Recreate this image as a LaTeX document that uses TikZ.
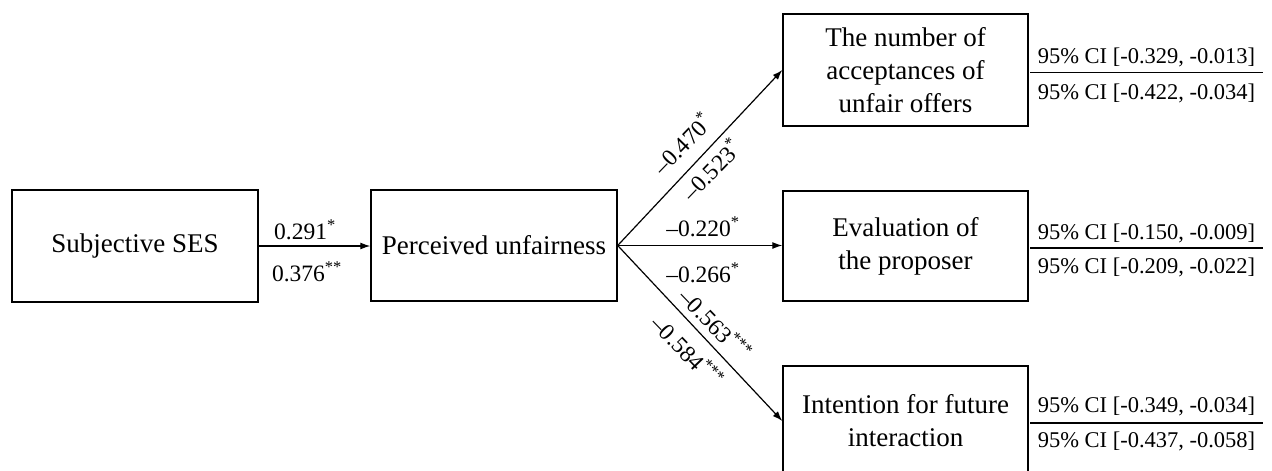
\documentclass[tikz,border=0pt]{standalone}
\usepackage{fontspec}
\setmainfont{Liberation Serif}
\usetikzlibrary{arrows.meta}
\begin{document}
\begin{tikzpicture}[x=1pt,y=-1pt,
  box/.style={draw, line width=1.4pt, align=center, inner sep=0pt, font=\fontsize{27}{33}\selectfont},
  lab/.style={inner sep=0pt, font=\fontsize{23.5}{26}\selectfont},
  ci/.style={inner sep=0pt, font=\fontsize{22.5}{26}\selectfont},
  arr/.style={line width=1.2pt, -{Latex[length=10pt,width=7pt]}},
  rule/.style={line width=1.2pt}]
\useasboundingbox (0,0) rectangle (1272,471);
\clip (0,0) rectangle (1272,471);
\node[box, minimum width=246pt, minimum height=112pt] (ses) at (135,246) {Subjective SES};
\node[box, minimum width=246pt, minimum height=111pt] (pu) at (494,245.5) {Perceived unfairness};
\node[box, minimum width=245pt, minimum height=112pt] (acc) at (905.5,70) {The number of\\acceptances of\\unfair offers};
\node[box, minimum width=245pt, minimum height=110pt] (eva) at (905.5,246) {Evaluation of\\the proposer};
\node[box, minimum width=245pt, minimum height=110pt] (int) at (905.5,421) {Intention for future\\interaction};

\coordinate (pux) at (pu.east);
\draw[arr] (ses.east |- 0,246) -- (pu.west |- 0,246);
\draw[arr] (pux) -- (acc.west);
\draw[arr] (pux) -- (eva.west |- pux);
\draw[arr] (pux) -- (int.west);

\node[lab] (l1) at (305,230) {0.291\textsuperscript{*}};
\node[lab] (l2) at (307,272) {0.376\textsuperscript{**}};
\node[lab, rotate=46] (l3) at (682,143) {–0.470\textsuperscript{*}};
\node[lab, rotate=46] (l4) at (711,169) {–0.523\textsuperscript{*}};
\node[lab] (l5) at (703,227) {–0.220\textsuperscript{*}};
\node[lab] (l6) at (703,273) {–0.266\textsuperscript{*}};
\node[lab, rotate=-46] (l7) at (716,324) {–0.563\textsuperscript{***}};
\node[lab, rotate=-46] (l8) at (688,351) {–0.584\textsuperscript{***}};

\coordinate (r1a) at (1030,72.7);
\coordinate (r1b) at (1263,72.7);
\draw[rule] (r1a) -- (r1b);
\node[ci] (c1a) at (1146.5,57) {95\% CI [-0.329, -0.013]};
\node[ci] (c1b) at (1146.5,93) {95\% CI [-0.422, -0.034]};
\coordinate (r2a) at (1030,248);
\coordinate (r2b) at (1263,248);
\draw[rule] (r2a) -- (r2b);
\node[ci] (c2a) at (1146.5,233) {95\% CI [-0.150, -0.009]};
\node[ci] (c2b) at (1146.5,267) {95\% CI [-0.209, -0.022]};
\coordinate (r3a) at (1030,423);
\coordinate (r3b) at (1263,423);
\draw[rule] (r3a) -- (r3b);
\node[ci] (c3a) at (1146.5,406) {95\% CI [-0.349, -0.034]};
\node[ci] (c3b) at (1146.5,441) {95\% CI [-0.437, -0.058]};
\end{tikzpicture}
\end{document}
